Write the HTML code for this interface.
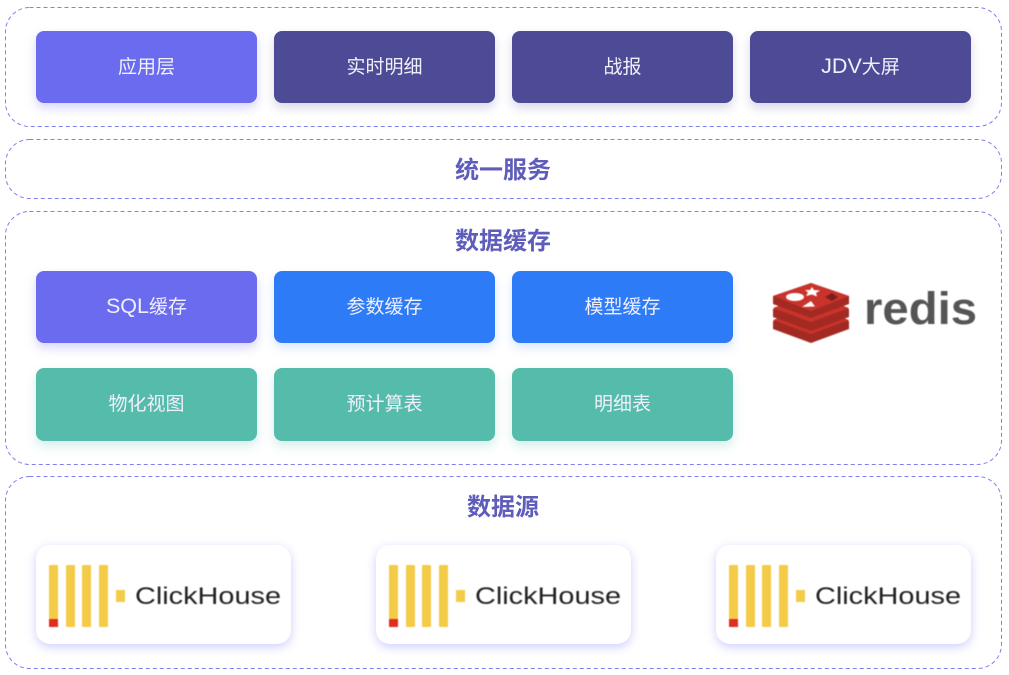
<!DOCTYPE html>
<html>
<head>
<meta charset="utf-8">
<style>
html,body{margin:0;padding:0;background:#fff}
body{position:relative;width:1009px;height:675px;overflow:hidden;font-family:"Liberation Sans","Noto Sans CJK SC",sans-serif}
.b{position:absolute;width:221px;height:72px;border-radius:8px;color:#f0f0fb;font-size:19px;line-height:74px;text-align:center}
.b span{font-size:21.5px;line-height:0}
.p{background:#6a6bee;box-shadow:0 5px 10px rgba(106,107,238,.28)}
.d{background:#4e4b96;box-shadow:0 5px 10px rgba(78,75,150,.22)}
.u{background:#2e7bf8;box-shadow:0 5px 10px rgba(46,123,248,.18)}
.g{background:#55bbab;box-shadow:0 5px 10px rgba(85,187,171,.25)}
.t{position:absolute;color:#5f5dbb;font-size:24px;font-weight:bold;line-height:30px;text-align:center}
.c{position:absolute;top:545px;width:255px;height:99px;border-radius:14px;background:#fff;box-shadow:0 3px 10px rgba(100,100,255,.32)}
svg{position:absolute;left:0;top:0}
.soft{filter:blur(.5px)}
</style>
</head>
<body>
<svg width="1009" height="675" viewBox="0 0 1009 675">
<g fill="none" stroke="#7f7ff0" stroke-width="1" stroke-dasharray="4 3">
<rect x="5.5" y="7.5" width="996" height="119" rx="24"/>
<rect x="5.5" y="139.5" width="996" height="59" rx="24"/>
<rect x="5.5" y="211.5" width="996" height="253" rx="24"/>
<rect x="5.5" y="476.5" width="996" height="192" rx="24"/>
</g>
</svg>

<div class="b p" style="left:36px;top:31px">应用层</div>
<div class="b d" style="left:274px;top:31px">实时明细</div>
<div class="b d" style="left:512px;top:31px">战报</div>
<div class="b d" style="left:750px;top:31px"><span>JDV</span>大屏</div>

<div class="t" style="left:5px;top:156px;width:996px">统一服务</div>
<div class="t" style="left:5px;top:227px;width:996px">数据缓存</div>
<div class="t" style="left:5px;top:493px;width:996px">数据源</div>

<div class="b p" style="left:36px;top:271px"><span>SQL</span>缓存</div>
<div class="b u" style="left:274px;top:271px">参数缓存</div>
<div class="b u" style="left:512px;top:271px">模型缓存</div>
<div class="b g" style="left:36px;top:368px;height:73px">物化视图</div>
<div class="b g" style="left:274px;top:368px;height:73px">预计算表</div>
<div class="b g" style="left:512px;top:368px;height:73px">明细表</div>

<svg class="soft" width="1009" height="675" viewBox="0 0 1009 675">
<g>
<polygon points="773,321 811,307 849,321 849,329 811,343 773,329" fill="#a32a22"/>
<polygon points="773,320 811,334 849,320 811,306" fill="#c9332b"/>
<polygon points="773,309 811,295 849,309 849,317 811,331 773,317" fill="#a32a22"/>
<polygon points="773,308 811,322 849,308 811,294" fill="#c9332b"/>
<polygon points="773,296 811,283 849,296 849,304 811,318 773,304" fill="#a32a22"/>
<polygon points="773,296 811,311 849,296 811,283" fill="#c9332b"/>
<ellipse cx="795" cy="297" rx="9" ry="4" fill="#fff"/>
<polygon points="812,287 814,290 820,290.500 816,293 817,296.500 812,294.500 806,296 808,292.500 805,290 810,290" fill="#fff"/>
<polygon points="802,307 815,306.500 811,301" fill="#fff"/>
<polygon points="825,297 832,293 838,297 832,301" fill="#7a1f1c"/>
</g>
<text x="864" y="324" font-family="Liberation Sans" font-size="45" font-weight="bold" fill="#555" textLength="113" lengthAdjust="spacingAndGlyphs">redis</text>
</svg>

<div class="c" style="left:36px"></div>
<div class="c" style="left:376px"></div>
<div class="c" style="left:716px"></div>

<svg class="soft" width="1009" height="675" viewBox="0 0 1009 675">
<g fill="#f3cb47">
<rect x="49" y="565" width="9" height="62" rx="1"/><rect x="66" y="565" width="9" height="62" rx="1"/><rect x="82" y="565" width="9" height="62" rx="1"/><rect x="99" y="565" width="9" height="62" rx="1"/><rect x="116" y="590" width="9" height="12"/>
<rect x="389" y="565" width="9" height="62" rx="1"/><rect x="406" y="565" width="9" height="62" rx="1"/><rect x="422" y="565" width="9" height="62" rx="1"/><rect x="439" y="565" width="9" height="62" rx="1"/><rect x="456" y="590" width="9" height="12"/>
<rect x="729" y="565" width="9" height="62" rx="1"/><rect x="746" y="565" width="9" height="62" rx="1"/><rect x="762" y="565" width="9" height="62" rx="1"/><rect x="779" y="565" width="9" height="62" rx="1"/><rect x="796" y="590" width="9" height="12"/>
</g>
<g fill="#dc2f22">
<rect x="49" y="619" width="9" height="8"/><rect x="389" y="619" width="9" height="8"/><rect x="729" y="619" width="9" height="8"/>
</g>
<g font-family="Liberation Sans" font-size="24" fill="#222">
<text x="135" y="604" textLength="146" lengthAdjust="spacingAndGlyphs">ClickHouse</text>
<text x="475" y="604" textLength="146" lengthAdjust="spacingAndGlyphs">ClickHouse</text>
<text x="815" y="604" textLength="146" lengthAdjust="spacingAndGlyphs">ClickHouse</text>
</g>
</svg>
</body>
</html>
